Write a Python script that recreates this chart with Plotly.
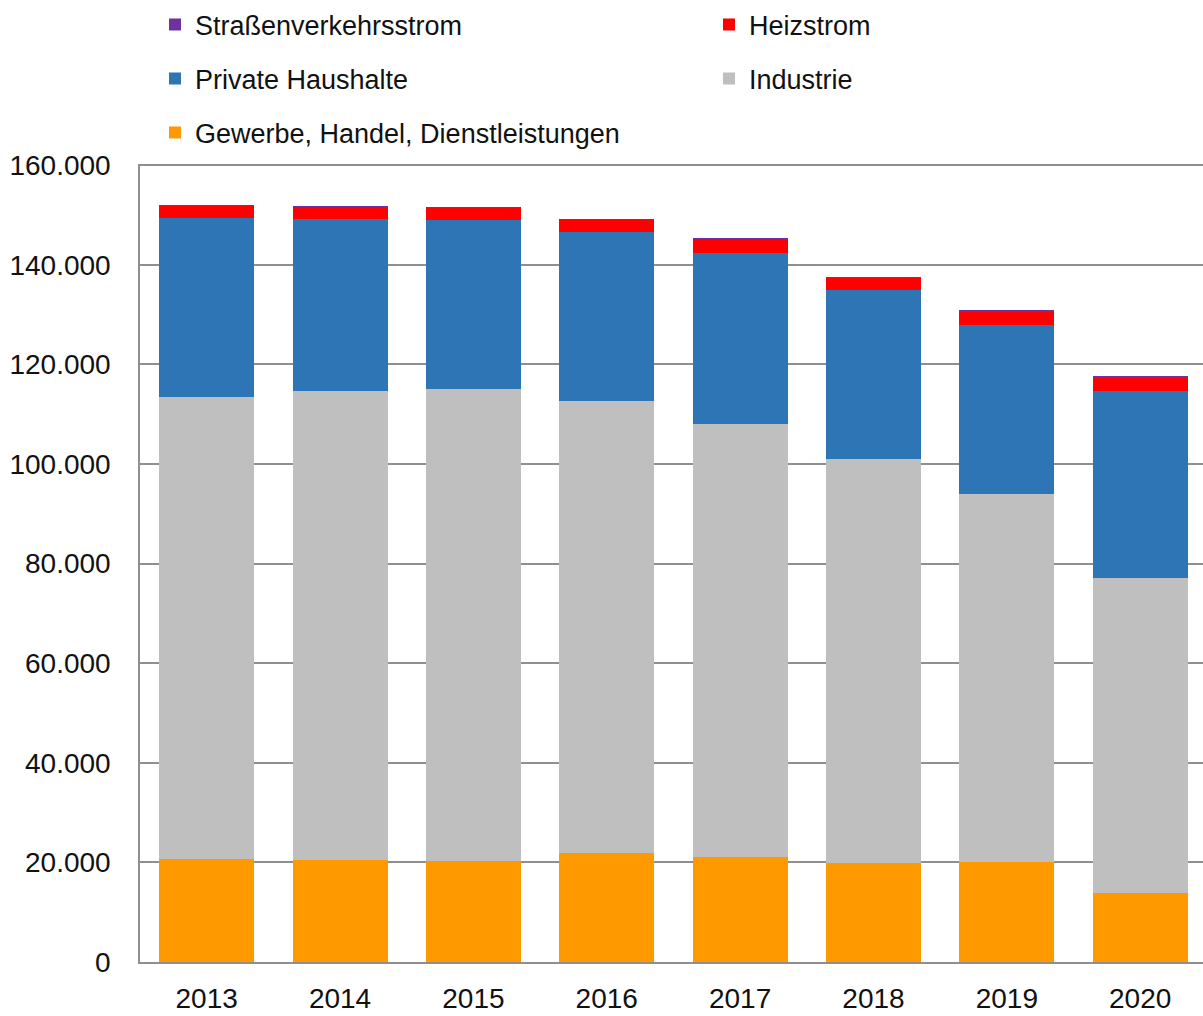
import plotly.graph_objects as go

years = ["2013", "2014", "2015", "2016", "2017", "2018", "2019", "2020"]

gewerbe = [20650, 20450, 20300, 21800, 21100, 19900, 20050, 13900]
industrie = [92900, 94250, 94800, 90830, 86970, 81140, 73970, 63300]
haushalte = [35830, 34540, 33880, 34000, 34280, 33880, 33800, 37430]
heizstrom = [2470, 2470, 2470, 2470, 2840, 2530, 2810, 2730]
strassenverkehr = [30, 40, 50, 60, 80, 100, 130, 180]

FONT = "Liberation Sans, Arial, sans-serif"

# stacking order bottom -> top, with the legend box each one sits in
series = [
    ("Gewerbe, Handel, Dienstleistungen", gewerbe, "#FF9900", "legend5"),
    ("Industrie", industrie, "#BFBFBF", "legend4"),
    ("Private Haushalte", haushalte, "#2E75B6", "legend3"),
    ("Heizstrom", heizstrom, "#FF0000", "legend2"),
    ("Straßenverkehrsstrom", strassenverkehr, "#7030A0", "legend"),
]

fig = go.Figure()
for name, vals, color, lg in series:
    fig.add_trace(go.Bar(
        x=years, y=vals, name=name, legend=lg, showlegend=True,
        marker=dict(color=color, line=dict(width=0)),
    ))

# body margin is zeroed below, so page pixels == figure pixels
W, H = 1203, 1016
YMAX = 160250  # a hair above 160.000 so the top gridline gets drawn
L, R, T, B = 140, 0, 164, 1016 - 962
pw, ph = W - L - R, H - T - B


def px_x(x):
    return (x - L) / pw


def px_y(y):
    return (H - B - y) / ph


legend_style = dict(
    font=dict(family=FONT, size=27, color="#111111"),
    bgcolor="rgba(0,0,0,0)", borderwidth=0,
    xanchor="left", yanchor="middle", orientation="v",
)
col1, col2 = px_x(155), px_x(709)
rows = [px_y(25), px_y(79), px_y(133)]

fig.update_layout(
    width=W, height=H,
    margin=dict(l=L, r=R, t=T, b=B, pad=0),
    barmode="stack",
    bargap=0.288,
    showlegend=True,
    plot_bgcolor="white",
    paper_bgcolor="white",
    separators=",.",
    font=dict(family=FONT, size=28, color="#111111"),
    legend=dict(x=col1, y=rows[0], **legend_style),
    legend2=dict(x=col2, y=rows[0], **legend_style),
    legend3=dict(x=col1, y=rows[1], **legend_style),
    legend4=dict(x=col2, y=rows[1], **legend_style),
    legend5=dict(x=col1, y=rows[2], **legend_style),
    xaxis=dict(
        range=[-0.5, 7.471],
        showline=True, linecolor="#8f8f8f", linewidth=1.5,
        ticks="outside", ticklen=11, tickcolor="rgba(0,0,0,0)",
        tickfont=dict(family=FONT, size=28, color="#111111"),
        showgrid=False,
    ),
    yaxis=dict(
        range=[0, YMAX],
        tickvals=[0, 20000, 40000, 60000, 80000, 100000, 120000, 140000, 160000],
        tickformat=",d",
        showline=True, linecolor="#8f8f8f", linewidth=1.5,
        showgrid=True, gridcolor="#8f8f8f", gridwidth=1.5,
        zeroline=False,
        ticks="outside", ticklen=22, tickcolor="rgba(0,0,0,0)",
        tickfont=dict(family=FONT, size=28, color="#111111"),
    ),
)

fig.write_html(
    "out.html",
    config={"displayModeBar": False},
    post_script="document.body.style.margin = '0';",
)
